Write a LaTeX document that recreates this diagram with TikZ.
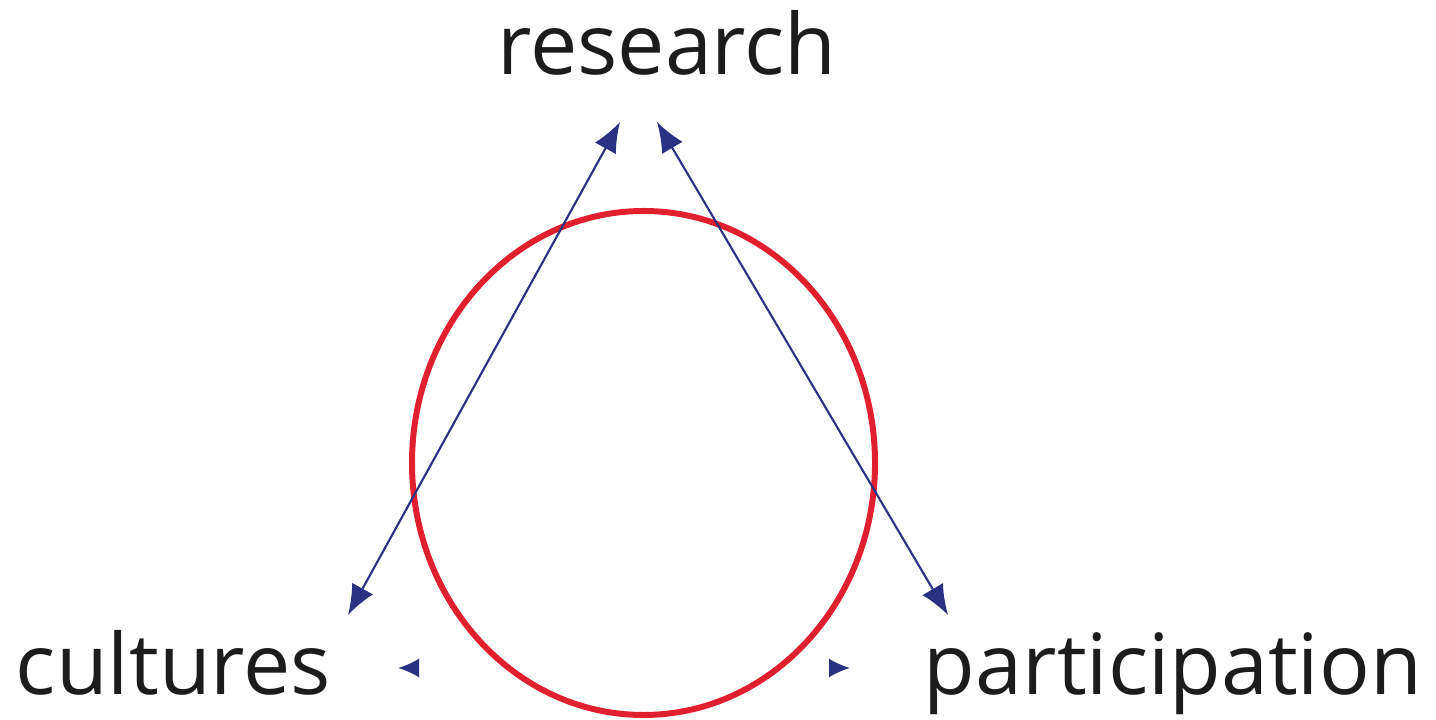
\documentclass[tikz,border=0pt]{standalone}
\usepackage{fontspec}
\setmainfont{Open Sans}
\usetikzlibrary{arrows.meta,positioning}
\definecolor{loopred}{HTML}{E0202E}
\definecolor{linkblue}{HTML}{2B3182}
\definecolor{darktext}{HTML}{1C1C1C}

\tikzset{
  word/.style={anchor=base, inner sep=0pt, text=darktext, font=\fontsize{24}{24}\selectfont},
  link/.style={draw=linkblue, line width=0.6pt, {Latex[length=3mm,width=2.4mm]}-{Latex[length=3mm,width=2.4mm]}},
  stub/.style={draw=linkblue, line width=0.6pt, -{Latex[length=2.1mm,width=1.9mm]}},
}

\begin{document}
\begin{tikzpicture}
\useasboundingbox (0,0) rectangle (14.36,7.2);
% labels
\node[word] (research) at (6.67,6.45) {research};
\node[word] (cultures) at (1.735,0.25) {cultures};
\node[word] (participation) at (11.73,0.25) {participation};
% the loop
\draw[loopred, line width=1.7pt] (6.435,2.57) ellipse [x radius=2.315, y radius=2.52];
% arrow ends
\coordinate (rl) at (6.20,5.98);
\coordinate (rr) at (6.57,5.98);
\coordinate (cl) at (3.48,1.05);
\coordinate (pr) at (9.48,1.05);
\draw[link] (rl) -- (cl);
\draw[link] (rr) -- (pr);
% loose heads
\coordinate (sl0) at (4.19,0.52);
\coordinate (sl) at (3.98,0.52);
\coordinate (sr0) at (8.29,0.52);
\coordinate (sr) at (8.50,0.52);
\draw[stub] (sl0) -- (sl);
\draw[stub] (sr0) -- (sr);
\end{tikzpicture}
\end{document}
